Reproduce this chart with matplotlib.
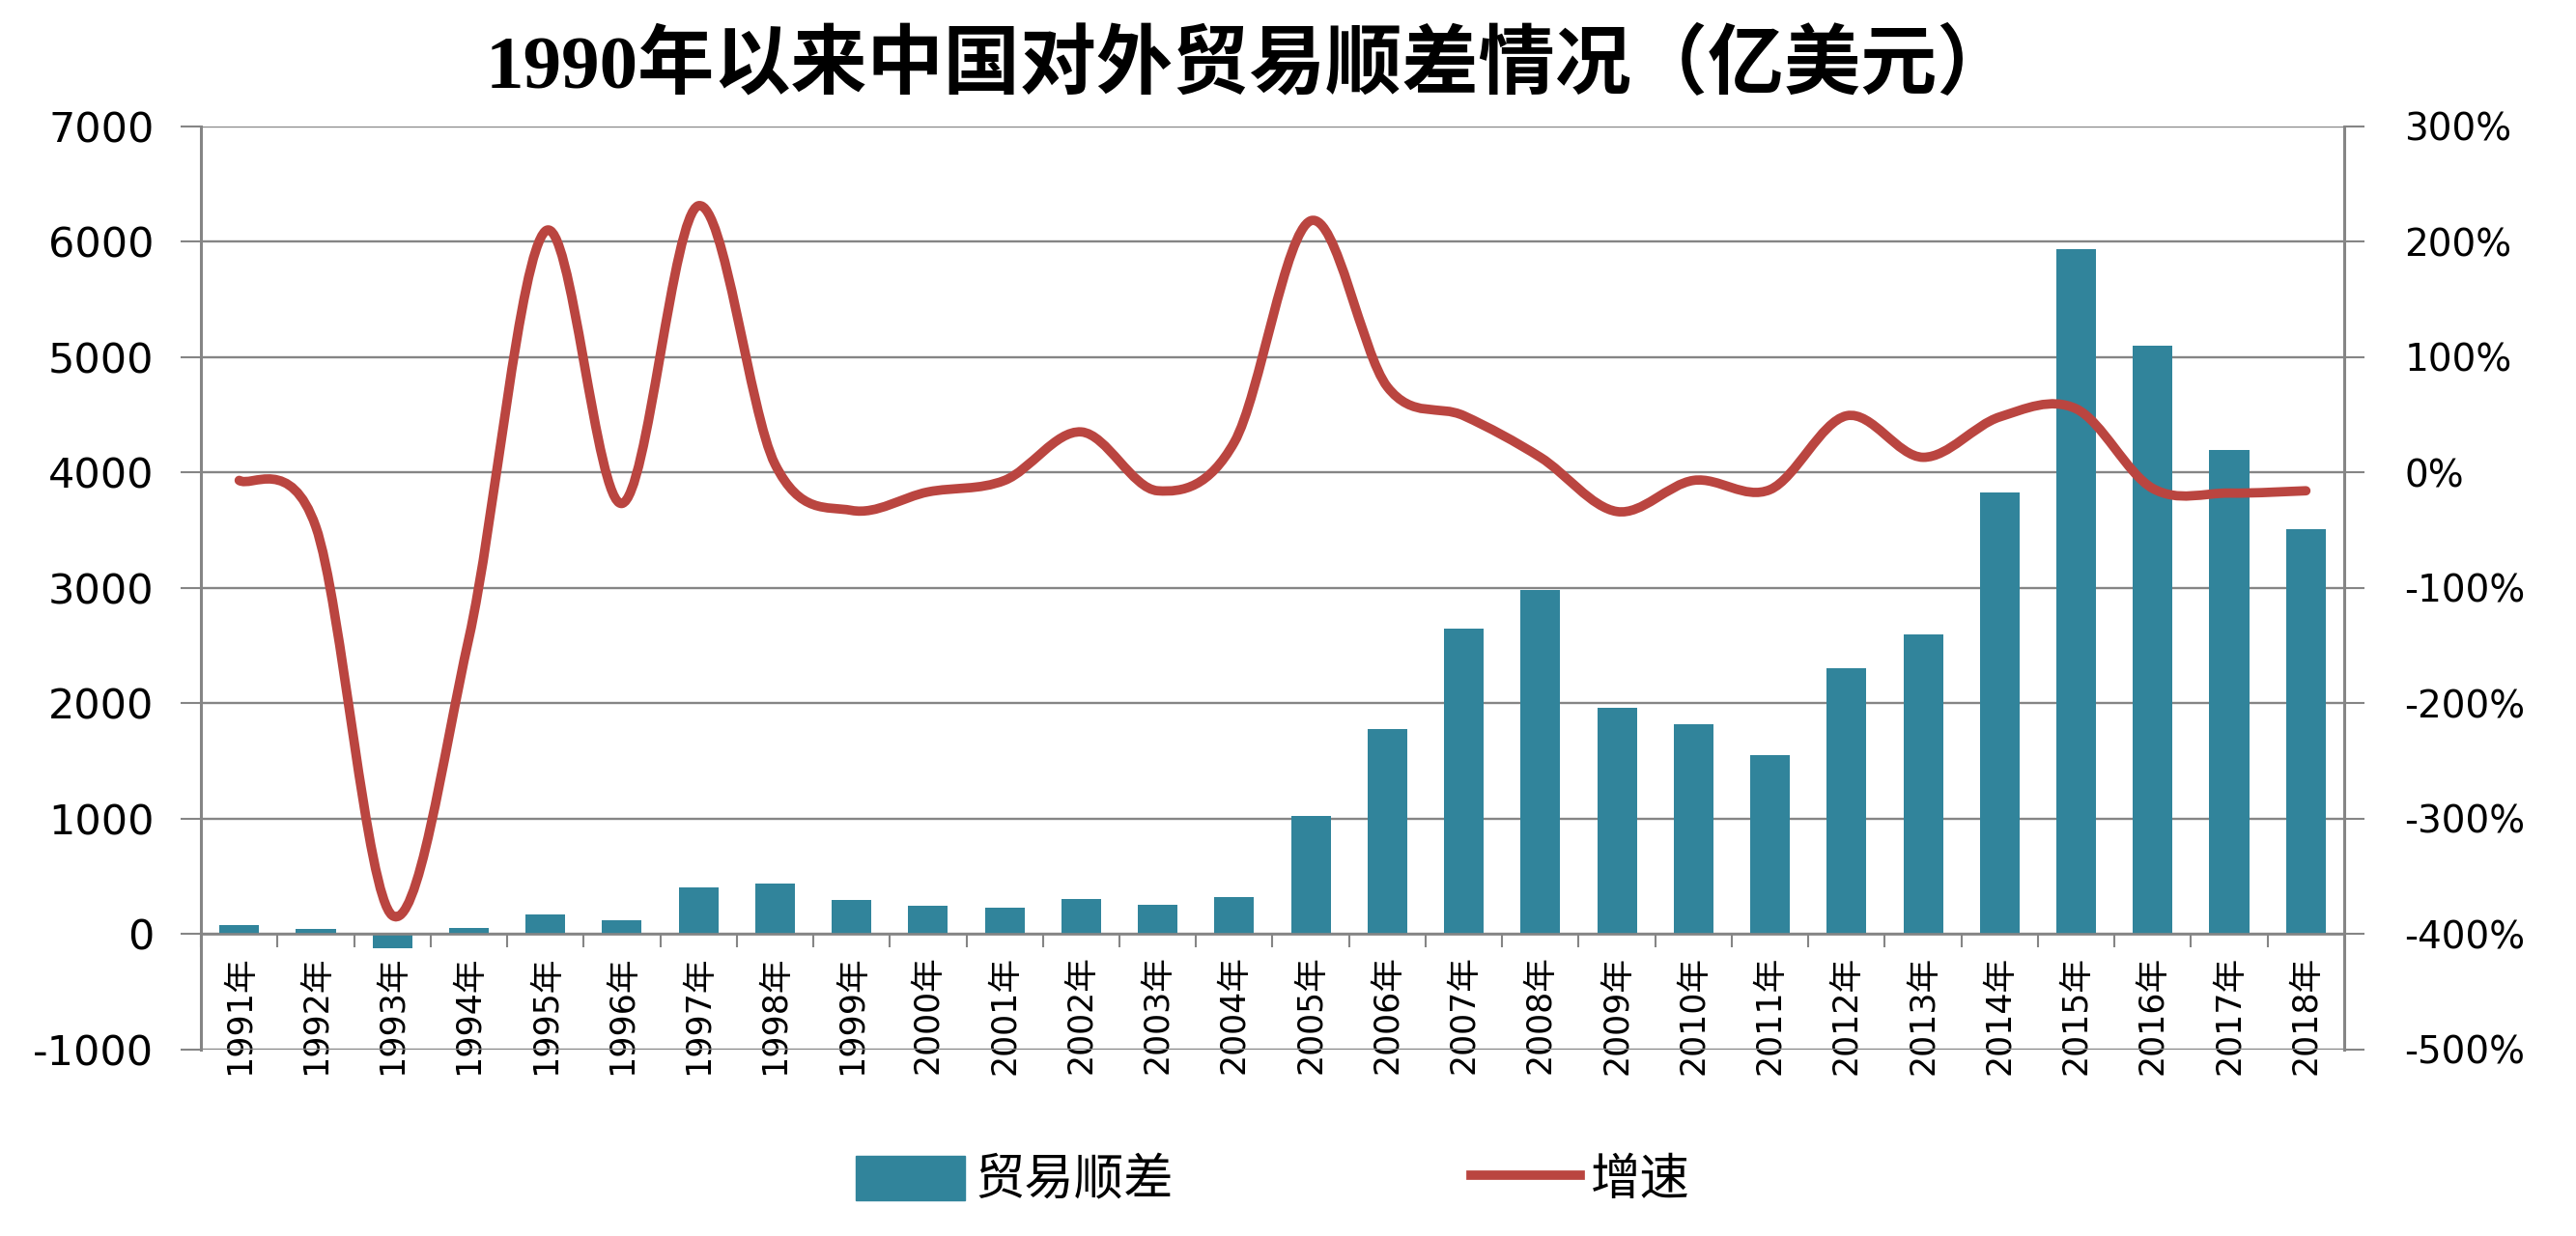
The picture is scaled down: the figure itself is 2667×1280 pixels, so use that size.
import numpy as np
import matplotlib.pyplot as plt
from matplotlib.path import Path
from matplotlib.patches import PathPatch, Patch
from matplotlib.lines import Line2D

plt.rcParams['font.family'] = ['DejaVu Sans', 'Noto Sans CJK SC']

# data (亿美元 / %)
years = ['1991年', '1992年', '1993年', '1994年', '1995年', '1996年', '1997年',
         '1998年', '1999年', '2000年', '2001年', '2002年', '2003年', '2004年',
         '2005年', '2006年', '2007年', '2008年', '2009年', '2010年', '2011年',
         '2012年', '2013年', '2014年', '2015年', '2016年', '2017年', '2018年']
surplus = [81, 43, -122, 54, 167, 122, 404, 434, 292, 241, 225, 304, 255, 321,
           1020, 1775, 2643, 2981, 1961, 1815, 1549, 2303, 2592, 3825, 5930,
           5097, 4196, 3509]
growth = [-7, -47, -384, -144, 209, -27, 231, 7, -33, -17, -7, 35, -16, 26,
          218, 74, 49, 13, -34, -7, -15, 49, 13, 48, 55, -14, -18, -16]
left_ticks = [-1000, 0, 1000, 2000, 3000, 4000, 5000, 6000, 7000]
right_ticks = [-500, -400, -300, -200, -100, 0, 100, 200, 300]

bar_color = '#31849B'
line_color = '#BA4540'
axis_gray = '#858585'

fig = plt.figure(figsize=(26.67, 12.8), dpi=100)
ax = fig.add_axes([0.078, 0.151, 0.832, 0.747])
x = np.arange(len(years))

ax.bar(x, surplus, width=0.52, color=bar_color, zorder=2)
ax.set_xlim(-0.5, len(years) - 0.5)
ax.set_ylim(-1000, 7000)
ax.set_yticks(left_ticks)
ax.set_yticklabels([str(v) for v in left_ticks], fontsize=31)
ax.yaxis.grid(True, color=axis_gray, lw=1.7, zorder=0)
ax.set_axisbelow(True)

# category axis crosses at zero, labels sit inside the plot below it
ax.spines['bottom'].set_position(('data', 0))
ax.spines['bottom'].set_color(axis_gray)
ax.spines['bottom'].set_linewidth(1.9)
ax.spines['top'].set_visible(False)
ax.spines['right'].set_visible(False)
ax.spines['left'].set_color(axis_gray)
ax.spines['left'].set_linewidth(2.2)
ax.set_xticks(x)
ax.set_xticklabels(years, rotation=90, fontsize=25, va='top')
ax.set_xticks(np.arange(len(years) + 1) - 0.5, minor=True)
ax.tick_params(axis='x', which='major', length=0, pad=16)
ax.tick_params(axis='x', which='minor', length=10, width=1.5, color=axis_gray, direction='out')
ax.tick_params(axis='y', length=15, width=1.5, color=axis_gray, direction='out', pad=20)

# growth rate on secondary axis, smoothed like an Excel line
ax2 = ax.twinx()
ax2.set_ylim(-500, 300)
ax2.set_yticks(right_ticks)
ax2.set_yticklabels([f'{v}%' for v in right_ticks], fontsize=28)
ax2.tick_params(axis='y', length=15, width=1.5, color=axis_gray, direction='out', pad=30)
for s in ['top', 'left', 'bottom']:
    ax2.spines[s].set_visible(False)
ax2.spines['right'].set_color(axis_gray)
ax2.spines['right'].set_linewidth(2.2)

pts = np.column_stack([x, growth]).astype(float)
n = len(pts)
verts = [pts[0]]
codes = [Path.MOVETO]
for i in range(n - 1):
    p0 = pts[max(i - 1, 0)]
    p1 = pts[i]
    p2 = pts[i + 1]
    p3 = pts[min(i + 2, n - 1)]
    verts += [p1 + (p2 - p0) / 6, p2 - (p3 - p1) / 6, p2]
    codes += [Path.CURVE4] * 3
ax2.add_patch(PathPatch(Path(verts, codes), facecolor='none', edgecolor=line_color,
                        lw=7, capstyle='round', joinstyle='round'))

fig.text(0.485, 0.945, '1990年以来中国对外贸易顺差情况（亿美元）',
         family=['Liberation Serif', 'Noto Sans CJK SC'], fontsize=57,
         fontweight='bold', ha='center', va='center')

handles = [Patch(color=bar_color), Line2D([], [], color=line_color, lw=7)]
fig.legend(handles, ['贸易顺差', '增速'], loc='center', bbox_to_anchor=(0.494, 0.045),
           ncol=2, frameon=False, fontsize=37, handlelength=2.2, handleheight=1.0,
           handletextpad=0.2, columnspacing=6.0)

fig.savefig('out.png', dpi=100)
